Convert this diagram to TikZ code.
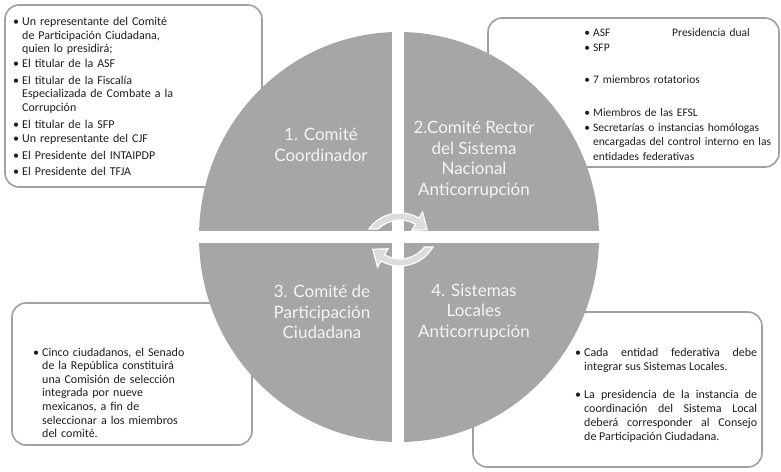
\documentclass[tikz,border=0pt]{standalone}
\usepackage{fontspec}
\setmainfont{Carlito}
\newfontfamily\labelfont{Lato}
\usetikzlibrary{calc}

\definecolor{disc}{HTML}{A6A6A6}
\definecolor{frame}{HTML}{A0A0A0}
\definecolor{ink}{HTML}{1E1E1E}
\definecolor{turnfill}{HTML}{DCDCDC}
\definecolor{labelink}{HTML}{F4F4F4}

% bullet hanging out to the left of the item text
\newcommand{\bul}{\noindent\makebox[0pt][r]{\textbullet\hspace{3pt}}}

\tikzset{
  panel/.style={draw=frame, line width=1.6pt, rounded corners=14pt, fill=white},
  item/.style={anchor=base west, inner sep=0pt, text=ink, text width=#1,
               font=\fontsize{12}{13.6}\selectfont, align=left},
  item/.default=200pt,
  sitem/.style={item=#1, font=\fontsize{11.5}{14.5}\selectfont},
  sitem/.default=200pt,
  jitem/.style={anchor=base west, inner sep=0pt, text=ink, text width=173pt,
                font=\fontsize{12}{14}\selectfont, align=justify},
  quad/.style={text=labelink, font=\labelfont\fontsize{17}{20.5}\selectfont,
               align=center, inner sep=0pt},
  turn/.style={draw=white, line width=1.2pt, fill=turnfill},
}

\begin{document}
\begin{tikzpicture}[x=1pt, y=-1pt]
\useasboundingbox (0,0) rectangle (781,471);

% ---------- rounded panels behind the disc ----------
\draw[panel] (5,5) rectangle (262,187);
\draw[panel] (488,18) rectangle (779,167);
\draw[panel] (12,303) rectangle (252,445);
\draw[panel] (473,312) rectangle (762,467);

% ---------- panel 1 ----------
\node[item] (p1a) at (22,25.5) {\bul Un representante del Comité\\de Participación Ciudadana,\\quien lo presidirá;};
\node[item] (p1b) at (22,67) {\bul El titular de la ASF};
\node[item] (p1c) at (22,84) {\bul El titular de la Fiscalía\\Especializada de Combate a la\\Corrupción};
\node[item] (p1d) at (22,128.5) {\bul El titular de la SFP};
\node[item] (p1e) at (22,142.5) {\bul Un representante del CJF};
\node[item] (p1f) at (22,159) {\bul El Presidente del INTAIPDP};
\node[item] (p1g) at (22,175.5) {\bul El Presidente del TFJA};

% ---------- panel 2 ----------
\node[sitem=60pt] (p2a) at (593,36) {\bul ASF};
\node[sitem=100pt] (p2dual) at (672,36) {Presidencia dual};
\node[sitem=60pt] (p2b) at (593,51) {\bul SFP};
\node[sitem] (p2c) at (593,83.5) {\bul 7 miembros rotatorios};
\node[sitem] (p2d) at (593,116) {\bul Miembros de las EFSL};
\node[sitem] (p2e) at (593,131) {\bul Secretarías o instancias homólogas\\encargadas del control interno en las\\entidades federativas};

% ---------- panel 3 ----------
\node[item] (p3a) at (42,356) {\bul Cinco ciudadanos, el Senado\\de la República constituirá\\una Comisión de selección\\integrada por nueve\\mexicanos, a fin de\\seleccionar a los miembros\\del comité.};

% ---------- panel 4 ----------
\node[jitem] (p4a) at (584,356) {\bul Cada entidad federativa debe\linebreak integrar sus Sistemas Locales.};
\node[jitem] (p4b) at (584,398) {\bul La presidencia de la instancia de\linebreak coordinación del Sistema Local\linebreak deberá corresponder al Consejo\linebreak de Participación Ciudadana.};

% ---------- quartered disc ----------
\fill[disc] (399,237) ellipse[x radius=200, y radius=205];
\fill[white] (392,25) rectangle (404,450);
\fill[white] (190,230.5) rectangle (610,243);

\node[quad] (q1) at (321,145) {1. Comité\\Coordinador};
\node[quad] (q2) at (474,160) {2.Comité Rector\\del Sistema\\Nacional\\Anticorrupción};
\node[quad] (q3) at (322,312) {3. Comité de\\Participación\\Ciudadana};
\node[quad] (q4) at (474,312) {4. Sistemas\\Locales\\Anticorrupción};

% ---------- cycle arrows at the centre ----------
\coordinate (ta) at (400,251);
\coordinate (ba) at (400,228);
% upper arrow, turning clockwise over the top
\path[turn] ($(ta)+(215.4:38)$) arc[start angle=215.4, end angle=300, radius=38]
  -- ($(ta)+(300:45)$) -- ($(ta)+(322:34.5)$) -- ($(ta)+(300:24)$)
  -- ($(ta)+(300:31)$) arc[start angle=300, end angle=225.2, radius=31] -- cycle;
% lower arrow, turning clockwise under the bottom
\path[turn] ($(ba)+(30:38)$) arc[start angle=30, end angle=120, radius=38]
  -- ($(ba)+(120:45)$) -- ($(ba)+(142:34.5)$) -- ($(ba)+(120:24)$)
  -- ($(ba)+(120:31)$) arc[start angle=120, end angle=37.8, radius=31] -- cycle;
\end{tikzpicture}
\end{document}
